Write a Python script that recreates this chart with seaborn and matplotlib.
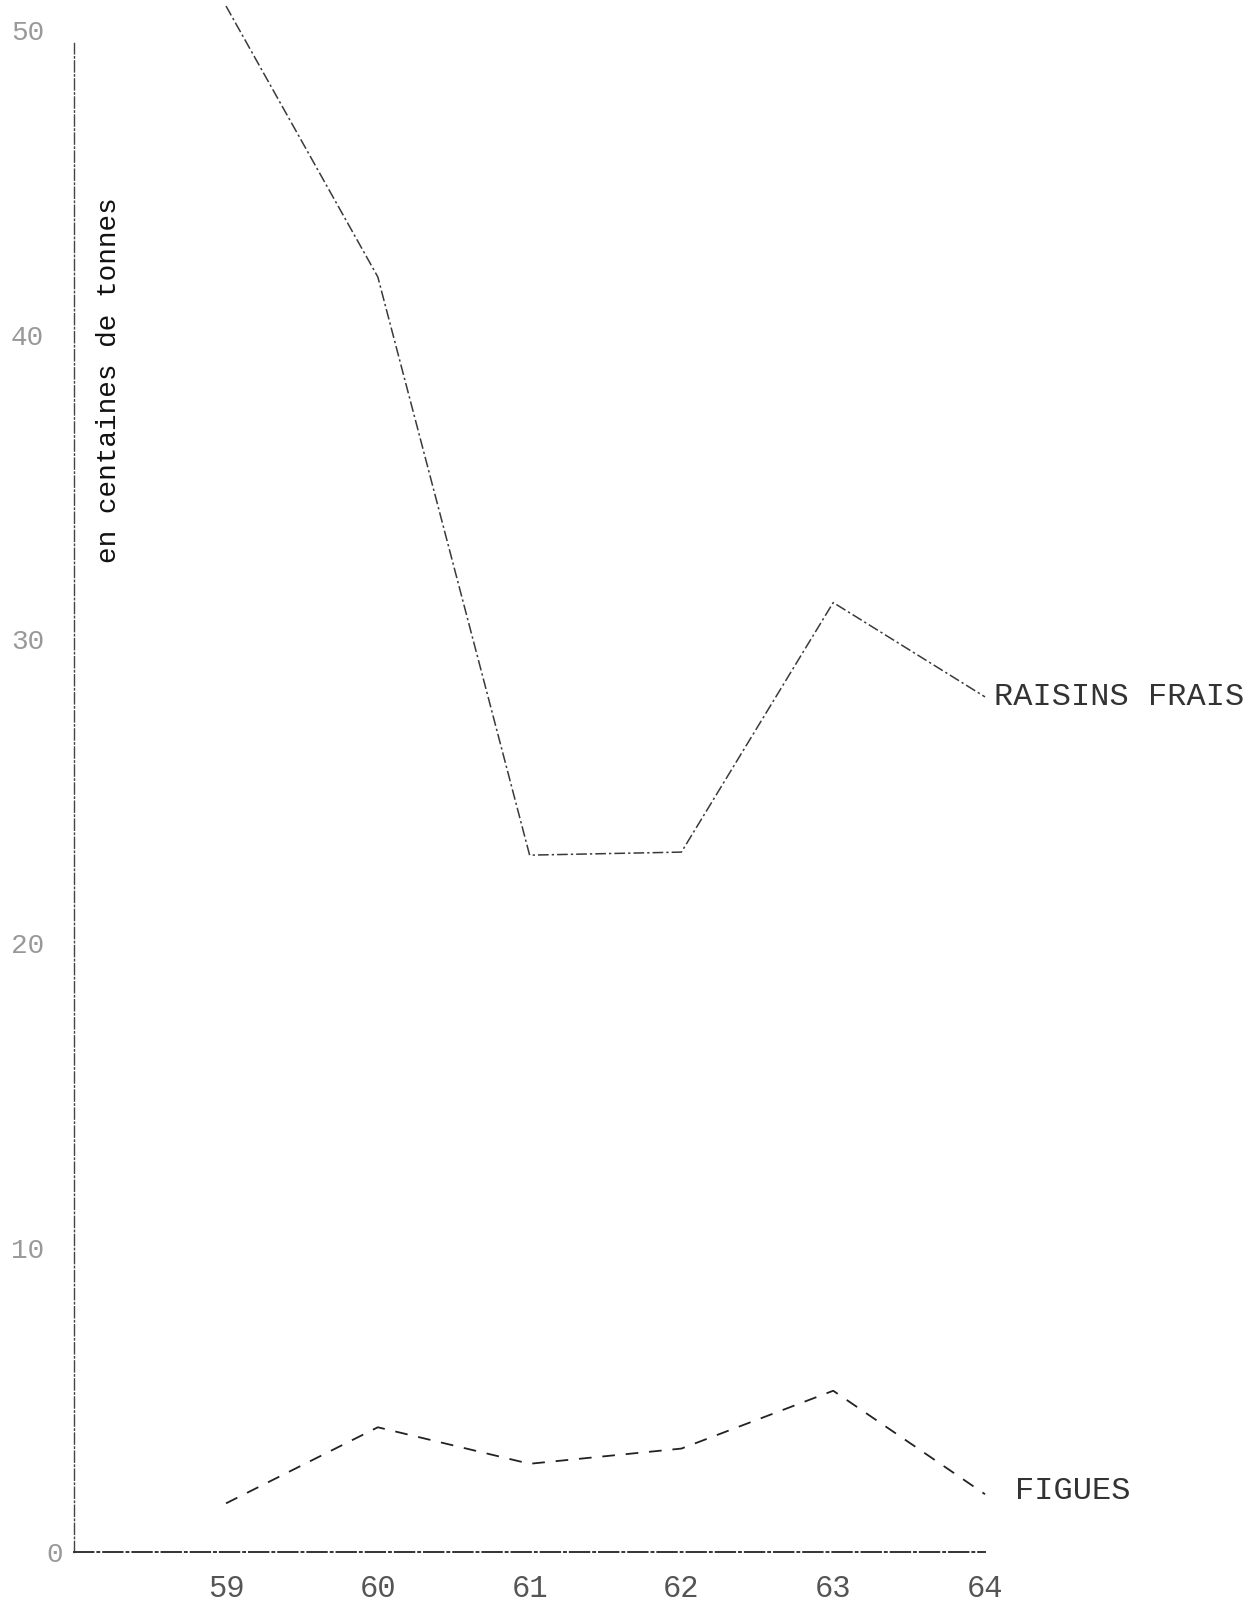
import numpy as np
import pandas as pd
import seaborn as sns
import matplotlib.pyplot as plt

annees = [59, 60, 61, 62, 63, 64]
raisins = [50.8, 41.9, 22.9, 23.0, 31.2, 28.1]
figues = [1.6, 4.1, 2.9, 3.4, 5.3, 1.9]
yticks = [0, 10, 20, 30, 40, 50]

df = pd.DataFrame({'annee': annees + annees,
                   'valeur': raisins + figues,
                   'produit': ['RAISINS FRAIS'] * 6 + ['FIGUES'] * 6})

sns.set_style('white')
plt.rcParams['font.family'] = ['Liberation Mono', 'DejaVu Sans']

fig = plt.figure(figsize=(12.58, 16.09), dpi=100)
ax = fig.add_axes([0.059, 0.0354, 0.724, 0.9646])

sns.lineplot(data=df[df.produit == 'RAISINS FRAIS'], x='annee', y='valeur',
             color='#3a3a3a', lw=1.1, ax=ax, legend=False)
ax.lines[-1].set_dashes([7, 2, 1.5, 2])
sns.lineplot(data=df[df.produit == 'FIGUES'], x='annee', y='valeur',
             color='#222222', lw=1.3, ax=ax, legend=False)
ax.lines[-1].set_dashes([7, 6])

ax.set_xlim(58, 64)
ax.set_ylim(0, 51)
ax.set_xticks(annees)
ax.set_xticklabels([str(a) for a in annees], color='#555555', fontsize=22)
ax.set_yticks(yticks)
ax.set_yticklabels([str(v) for v in yticks], color='#999999', fontsize=20)
ax.tick_params(length=0)
ax.tick_params(axis='x', pad=16)
ax.tick_params(axis='y', pad=14)
for lab in ax.get_yticklabels():
    lab.set_horizontalalignment('center')
    lab.set_x(-0.03)
# le "0" est tapé plus près de l'axe
ax.get_yticklabels()[0].set_x(0.0)

ax.set_xlabel('')
ax.set_ylabel('')
for s in ['top', 'right']:
    ax.spines[s].set_visible(False)
ax.spines['left'].set_linestyle((0, (8, 2, 1, 2)))
ax.spines['left'].set_color('#444444')
ax.spines['left'].set_linewidth(1.0)
ax.spines['left'].set_bounds(0, 49.6)
ax.spines['bottom'].set_linestyle((0, (10, 2, 1, 2)))
ax.spines['bottom'].set_color('#333333')
ax.spines['bottom'].set_linewidth(1.4)

ax.text(58.23, 38.5, 'en centaines de tonnes', rotation=90, fontsize=20,
        color='#111111', ha='center', va='center')
ax.text(64.06, 28.1, 'RAISINS FRAIS', fontsize=23, color='#333333',
        ha='left', va='center')
ax.text(64.2, 2.0, 'FIGUES', fontsize=23, color='#333333',
        ha='left', va='center')

for ln in ax.lines:
    ln.set_clip_on(False)

fig.savefig('out.png', dpi=100)
